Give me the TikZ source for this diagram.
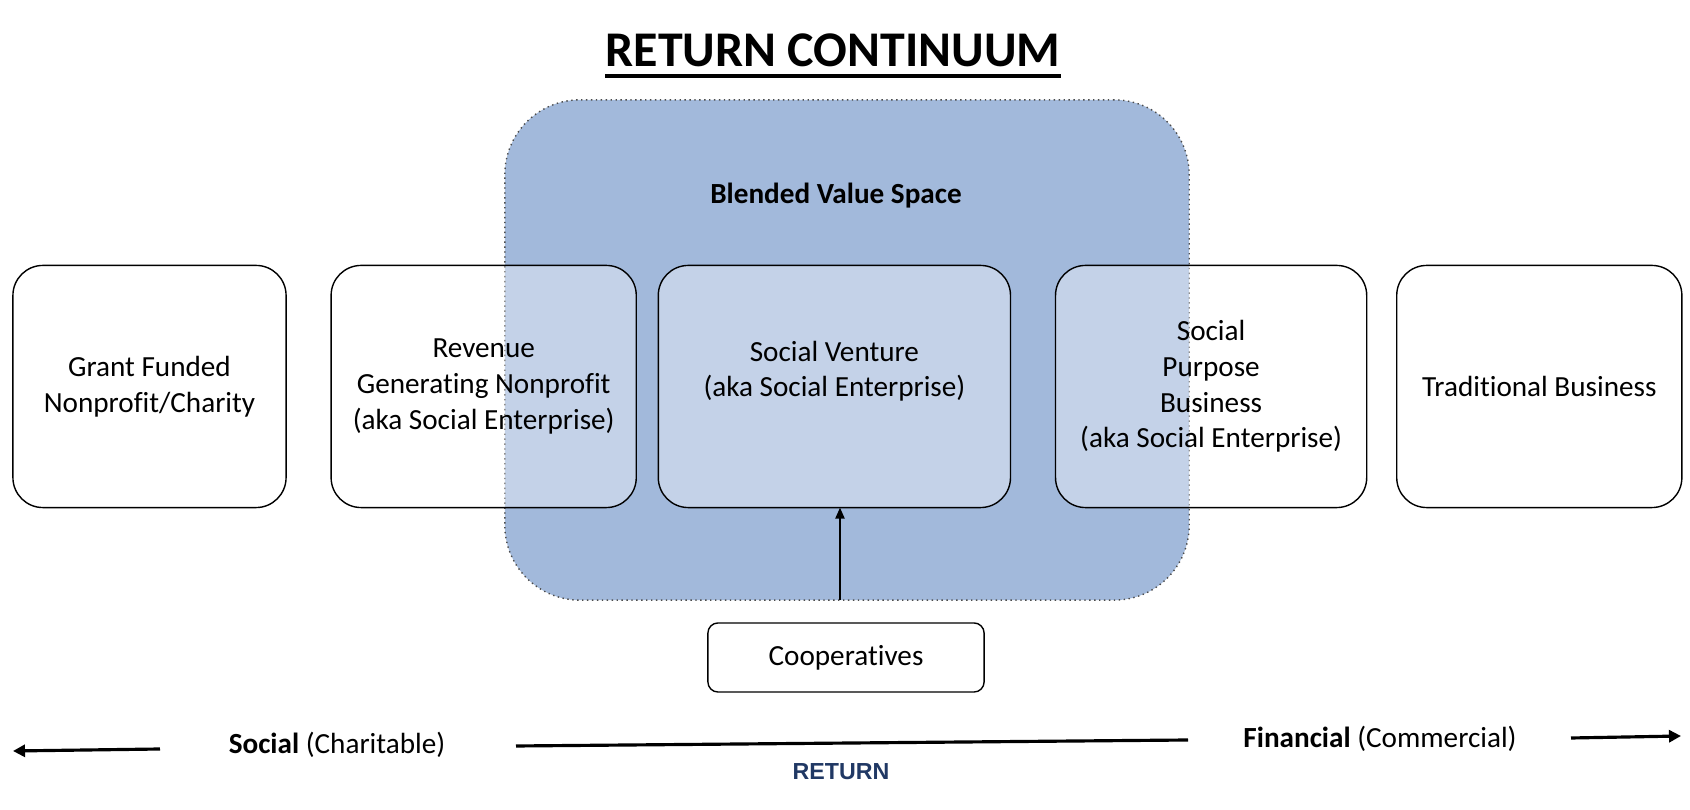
\documentclass[tikz,border=0pt]{standalone}
\usepackage{fontspec}
\setmainfont[Ligatures={NoCommon}]{Carlito}
\newfontfamily\axisfont{Liberation Sans}
\usetikzlibrary{arrows.meta,positioning,calc}
\definecolor{blendblue}{RGB}{162,185,219}
\definecolor{returnblue}{RGB}{32,56,100}

\begin{document}
\begin{tikzpicture}[
  x=0.01cm,y=-0.01cm,
  font=\fontsize{8.3}{10.1}\selectfont,
  ent/.style={draw,line width=0.4pt,rounded corners=0.3cm,fill=white,fill opacity=0.37,text opacity=1,
    minimum height=2.42cm,align=center,inner sep=2pt,outer sep=0pt},
  blend/.style={draw=black!70,densely dotted,line width=0.4pt,rounded corners=0.75cm,fill=blendblue,
    minimum width=6.84cm,minimum height=5.0cm},
  coop/.style={draw,line width=0.4pt,rounded corners=0.1cm,minimum width=2.76cm,minimum height=0.69cm},
  uparc/.style={-{Triangle[length=1.1mm,width=0.9mm]},line width=0.6pt},
  axarc/.style={-{Triangle[length=1.2mm,width=1.2mm]},line width=0.9pt},
]
  \useasboundingbox (0,0) rectangle (1690,810);

  % Title
  \node[anchor=base,inner sep=0pt,font=\fontsize{14.2}{17}\selectfont\bfseries] (title) at (833,67) {RETURN CONTINUUM};
  \draw[line width=0.9pt] ([yshift=-0.9mm]title.base west) -- ([yshift=-0.9mm]title.base east);

  % Blended value space
  \node[blend] (blended) at (847,350) {};
  \node[font=\fontsize{8.3}{10.1}\selectfont\bfseries] (blendlab) at (836,196) {Blended Value Space};

  % Continuum of organisations
  \node[ent,minimum width=2.73cm] (grant) at (149.5,386.5) {Grant Funded\\Nonprofit/Charity};
  \node[ent,minimum width=3.05cm,right=0.45cm of grant] (revenue) {Revenue\\Generating Nonprofit\\(aka Social Enterprise)};
  \node[ent,minimum width=3.52cm,right=0.22cm of revenue] (venture) {Social Venture\\(aka Social Enterprise)\\~};
  \node[ent,minimum width=3.11cm,right=0.45cm of venture] (purpose) {Social\\Purpose\\Business\\(aka Social Enterprise)};
  \node[ent,minimum width=2.85cm,right=0.30cm of purpose] (trad) {Traditional Business};

  % Cooperatives feed into the social venture
  \node[coop] (coop) at (846,657.5) {Cooperatives};
  \coordinate (feed) at (840,600);
  \draw[uparc] (feed) -- (feed |- venture.south);

  % Return axis
  \node (social) at (337,745) {\textbf{Social} (Charitable)};
  \node (financial) at (1380,739) {\textbf{Financial} (Commercial)};
  \node[font=\axisfont\fontsize{6.6}{8}\selectfont\bfseries,text=returnblue] (ret) at (841,772) {RETURN};
  \coordinate (lfrom) at (160,749);
  \coordinate (lto) at (13,751);
  \coordinate (mfrom) at (516,746);
  \coordinate (mto) at (1188,740);
  \coordinate (rfrom) at (1571,738);
  \coordinate (rto) at (1681,736);
  \draw[axarc] (lfrom) -- (lto);
  \draw[line width=0.9pt] (mfrom) -- (mto);
  \draw[axarc] (rfrom) -- (rto);
\end{tikzpicture}
\end{document}
